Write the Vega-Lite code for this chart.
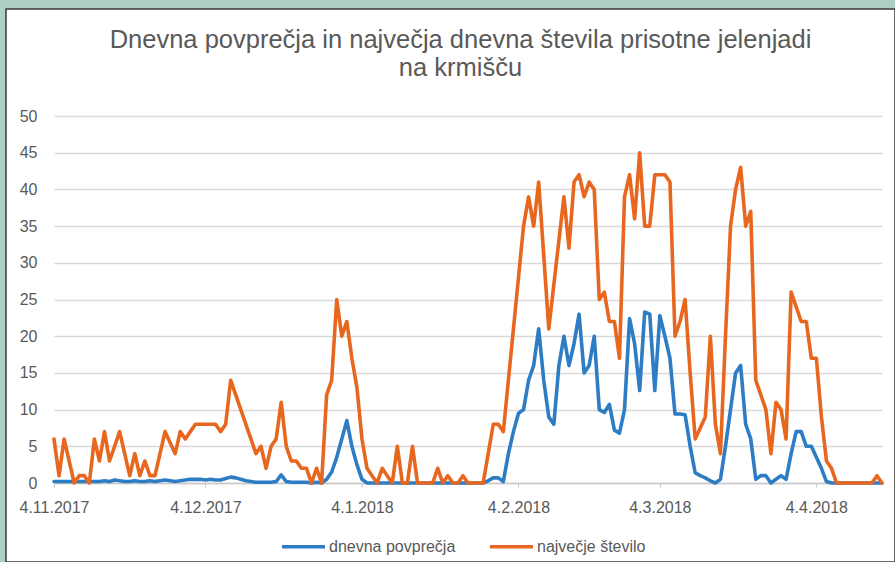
{
"$schema": "https://vega.github.io/schema/vega-lite/v6.json",
"width": 889, "height": 553,
"autosize": {"type": "none"},
"padding": {"left": 6, "top": 9, "right": 0, "bottom": 0},
"background": "#b0cfc3",
"config": {"view": {"fill": "#ffffff", "stroke": "#3a3a3a", "strokeWidth": 1.5}, "font": "Liberation Sans"},
"title": {"text": ["Dnevna povprečja in največja dnevna števila prisotne jelenjadi", "na krmišču"], "font": "Liberation Sans", "fontSize": 25.5, "fontWeight": "normal", "color": "#595959", "lineHeight": 28, "anchor": "middle", "frame": "group", "offset": -72, "dx": 10},
"data": {"values": [
{"d":"2017-11-04","a":0.2,"m":6},{"d":"2017-11-05","a":0.2,"m":1},{"d":"2017-11-06","a":0.2,"m":6},{"d":"2017-11-07","a":0.2,"m":3},{"d":"2017-11-08","a":0.2,"m":0},{"d":"2017-11-09","a":0.2,"m":1},{"d":"2017-11-10","a":0.2,"m":1},{"d":"2017-11-11","a":0.2,"m":0},{"d":"2017-11-12","a":0.2,"m":6},{"d":"2017-11-13","a":0.2,"m":3},
{"d":"2017-11-14","a":0.3,"m":7},{"d":"2017-11-15","a":0.2,"m":3},{"d":"2017-11-16","a":0.4,"m":5},{"d":"2017-11-17","a":0.3,"m":7},{"d":"2017-11-18","a":0.2,"m":4},{"d":"2017-11-19","a":0.2,"m":1},{"d":"2017-11-20","a":0.3,"m":4},{"d":"2017-11-21","a":0.2,"m":1},{"d":"2017-11-22","a":0.2,"m":3},{"d":"2017-11-23","a":0.3,"m":1},
{"d":"2017-11-24","a":0.2,"m":1},{"d":"2017-11-25","a":0.3,"m":4},{"d":"2017-11-26","a":0.4,"m":7},{"d":"2017-11-27","a":0.3,"m":5.5},{"d":"2017-11-28","a":0.2,"m":4},{"d":"2017-11-29","a":0.3,"m":7},{"d":"2017-11-30","a":0.4,"m":6},{"d":"2017-12-01","a":0.5,"m":7},{"d":"2017-12-02","a":0.5,"m":8},{"d":"2017-12-03","a":0.5,"m":8},
{"d":"2017-12-04","a":0.4,"m":8},{"d":"2017-12-05","a":0.5,"m":8},{"d":"2017-12-06","a":0.4,"m":8},{"d":"2017-12-07","a":0.4,"m":7},{"d":"2017-12-08","a":0.6,"m":8},{"d":"2017-12-09","a":0.8,"m":14},{"d":"2017-12-10","a":0.7,"m":12},{"d":"2017-12-11","a":0.5,"m":10},{"d":"2017-12-12","a":0.3,"m":8},{"d":"2017-12-13","a":0.2,"m":6},
{"d":"2017-12-14","a":0.1,"m":4},{"d":"2017-12-15","a":0.1,"m":5},{"d":"2017-12-16","a":0.1,"m":2},{"d":"2017-12-17","a":0.1,"m":5},{"d":"2017-12-18","a":0.2,"m":6},{"d":"2017-12-19","a":1.1,"m":11},{"d":"2017-12-20","a":0.2,"m":5},{"d":"2017-12-21","a":0.1,"m":3},{"d":"2017-12-22","a":0.1,"m":3},{"d":"2017-12-23","a":0.1,"m":2},
{"d":"2017-12-24","a":0.1,"m":2},{"d":"2017-12-25","a":0,"m":0},{"d":"2017-12-26","a":0.1,"m":2},{"d":"2017-12-27","a":0,"m":0},{"d":"2017-12-28","a":0.5,"m":12},{"d":"2017-12-29","a":1.5,"m":14},{"d":"2017-12-30","a":3.5,"m":25},{"d":"2017-12-31","a":6,"m":20},{"d":"2018-01-01","a":8.5,"m":22},{"d":"2018-01-02","a":5,"m":17},
{"d":"2018-01-03","a":2.5,"m":13},{"d":"2018-01-04","a":0.5,"m":6},{"d":"2018-01-05","a":0,"m":2},{"d":"2018-01-06","a":0,"m":1},{"d":"2018-01-07","a":0,"m":0},{"d":"2018-01-08","a":0,"m":2},{"d":"2018-01-09","a":0,"m":1},{"d":"2018-01-10","a":0,"m":0},{"d":"2018-01-11","a":0,"m":5},{"d":"2018-01-12","a":0,"m":0},
{"d":"2018-01-13","a":0,"m":0},{"d":"2018-01-14","a":0,"m":5},{"d":"2018-01-15","a":0,"m":0},{"d":"2018-01-16","a":0,"m":0},{"d":"2018-01-17","a":0,"m":0},{"d":"2018-01-18","a":0,"m":0},{"d":"2018-01-19","a":0,"m":2},{"d":"2018-01-20","a":0,"m":0},{"d":"2018-01-21","a":0,"m":1},{"d":"2018-01-22","a":0,"m":0},
{"d":"2018-01-23","a":0,"m":0},{"d":"2018-01-24","a":0,"m":1},{"d":"2018-01-25","a":0,"m":0},{"d":"2018-01-26","a":0,"m":0},{"d":"2018-01-27","a":0,"m":0},{"d":"2018-01-28","a":0,"m":0},{"d":"2018-01-29","a":0.3,"m":4},{"d":"2018-01-30","a":0.7,"m":8},{"d":"2018-01-31","a":0.7,"m":8},{"d":"2018-02-01","a":0.2,"m":7},
{"d":"2018-02-02","a":4,"m":14},{"d":"2018-02-03","a":7,"m":21},{"d":"2018-02-04","a":9.5,"m":28},{"d":"2018-02-05","a":10,"m":35},{"d":"2018-02-06","a":14,"m":39},{"d":"2018-02-07","a":16,"m":35},{"d":"2018-02-08","a":21,"m":41},{"d":"2018-02-09","a":14,"m":31},{"d":"2018-02-10","a":9,"m":21},{"d":"2018-02-11","a":8,"m":27},
{"d":"2018-02-12","a":16,"m":33},{"d":"2018-02-13","a":20,"m":39},{"d":"2018-02-14","a":16,"m":32},{"d":"2018-02-15","a":19,"m":41},{"d":"2018-02-16","a":23,"m":42},{"d":"2018-02-17","a":15,"m":39},{"d":"2018-02-18","a":16,"m":41},{"d":"2018-02-19","a":20,"m":40},{"d":"2018-02-20","a":10,"m":25},{"d":"2018-02-21","a":9.6,"m":26},
{"d":"2018-02-22","a":10.7,"m":22},{"d":"2018-02-23","a":7.2,"m":22},{"d":"2018-02-24","a":6.8,"m":17},{"d":"2018-02-25","a":10,"m":39},{"d":"2018-02-26","a":22.4,"m":42},{"d":"2018-02-27","a":19,"m":36},{"d":"2018-02-28","a":12.6,"m":45},{"d":"2018-03-01","a":23.3,"m":35},{"d":"2018-03-02","a":23,"m":35},{"d":"2018-03-03","a":12.6,"m":42},
{"d":"2018-03-04","a":22.8,"m":42},{"d":"2018-03-05","a":20,"m":42},{"d":"2018-03-06","a":17,"m":41},{"d":"2018-03-07","a":9.4,"m":20},{"d":"2018-03-08","a":9.4,"m":22},{"d":"2018-03-09","a":9.3,"m":25},{"d":"2018-03-10","a":5,"m":15},{"d":"2018-03-11","a":1.4,"m":6},{"d":"2018-03-12","a":1,"m":7.5},{"d":"2018-03-13","a":0.7,"m":9},
{"d":"2018-03-14","a":0.3,"m":20},{"d":"2018-03-15","a":0,"m":8},{"d":"2018-03-16","a":0.5,"m":4},{"d":"2018-03-17","a":5,"m":20},{"d":"2018-03-18","a":10,"m":35},{"d":"2018-03-19","a":15,"m":40},{"d":"2018-03-20","a":16,"m":43},{"d":"2018-03-21","a":8,"m":35},{"d":"2018-03-22","a":6,"m":37},{"d":"2018-03-23","a":0.5,"m":14},
{"d":"2018-03-24","a":1,"m":12},{"d":"2018-03-25","a":1,"m":10},{"d":"2018-03-26","a":0,"m":4},{"d":"2018-03-27","a":0.5,"m":11},{"d":"2018-03-28","a":1,"m":10},{"d":"2018-03-29","a":0.5,"m":6},{"d":"2018-03-30","a":4,"m":26},{"d":"2018-03-31","a":7,"m":24},{"d":"2018-04-01","a":7,"m":22},{"d":"2018-04-02","a":5,"m":22},
{"d":"2018-04-03","a":5,"m":17},{"d":"2018-04-04","a":3.5,"m":17},{"d":"2018-04-05","a":2,"m":9},{"d":"2018-04-06","a":0.2,"m":3},{"d":"2018-04-07","a":0,"m":2},{"d":"2018-04-08","a":0,"m":0},{"d":"2018-04-09","a":0,"m":0},{"d":"2018-04-10","a":0,"m":0},{"d":"2018-04-11","a":0,"m":0},{"d":"2018-04-12","a":0,"m":0},
{"d":"2018-04-13","a":0,"m":0},{"d":"2018-04-14","a":0,"m":0},{"d":"2018-04-15","a":0,"m":0},{"d":"2018-04-16","a":0,"m":1},{"d":"2018-04-17","a":0,"m":0}
]},
"transform": [{"fold": ["a", "m"], "as": ["k", "v"]}, {"lookup": "k", "from": {"data": {"values": [{"k": "a", "serija": "dnevna povprečja"}, {"k": "m", "serija": "največje število"}]}, "key": "k", "fields": ["serija"]}}],
"mark": {"type": "line", "strokeWidth": 3.6, "strokeJoin": "round", "strokeCap": "round"},
"encoding": {
"x": {"field": "d", "type": "temporal",
 "scale": {"type": "utc", "domain": [{"year": 2017, "month": 11, "date": 4, "utc": true}, {"year": 2018, "month": 4, "date": 17, "utc": true}], "range": [48, 876]},
 "axis": {"title": null, "format": "%-d.%-m.%Y", "values": [{"year": 2017, "month": 11, "date": 4, "utc": true}, {"year": 2017, "month": 12, "date": 4, "utc": true}, {"year": 2018, "month": 1, "date": 4, "utc": true}, {"year": 2018, "month": 2, "date": 4, "utc": true}, {"year": 2018, "month": 3, "date": 4, "utc": true}, {"year": 2018, "month": 4, "date": 4, "utc": true}],
  "offset": -79, "grid": false, "labelFont": "Liberation Sans", "labelFontSize": 16, "labelColor": "#595959", "domainColor": "#c8c8c8", "domainWidth": 1.3, "tickColor": "#c8c8c8", "tickSize": 4, "labelPadding": 12, "labelOverlap": false, "labelFlush": false}},
"y": {"field": "v", "type": "quantitative",
 "scale": {"domain": [0, 50], "range": [474, 107], "nice": false, "zero": true},
 "axis": {"title": null, "values": [0, 5, 10, 15, 20, 25, 30, 35, 40, 45, 50], "offset": -48, "domain": false, "ticks": false, "tickSize": 0, "labelPadding": 17, "grid": true, "gridColor": "#d9d9d9", "gridWidth": 1.3, "labelFont": "Liberation Sans", "labelFontSize": 16, "labelColor": "#595959"}},
"color": {"field": "serija", "type": "nominal",
 "scale": {"domain": ["dnevna povprečja", "največje število"], "range": ["#2e7dc4", "#e8671f"]},
 "legend": {"title": null, "orient": "none", "legendX": 274, "legendY": 514, "direction": "horizontal", "symbolType": "stroke", "symbolSize": 1850, "symbolStrokeWidth": 3.6, "labelFont": "Liberation Sans", "labelFontSize": 16, "labelColor": "#595959", "labelOffset": 2, "columnPadding": 26, "padding": 0}}
}
}
